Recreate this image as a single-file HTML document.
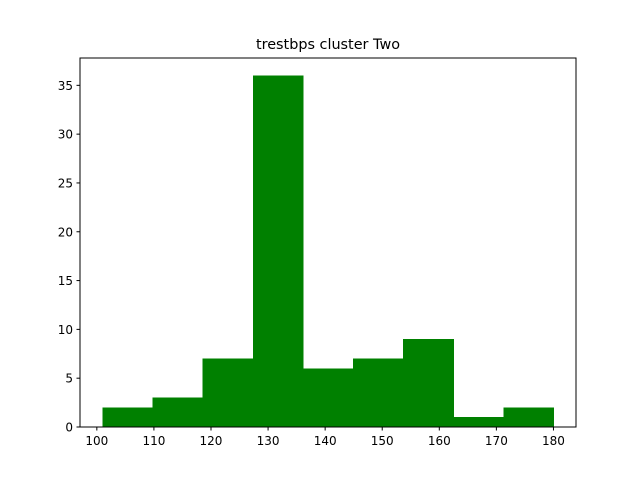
<!DOCTYPE html>
<html><head><meta charset="utf-8"><style>
body{margin:0;background:#fff;}
svg text{font-family:"DejaVu Sans","Liberation Sans",sans-serif;}
</style></head><body>
<svg id="chart" width="640" height="480">
<text x="328" y="49" font-size="14.4" text-anchor="middle">trestbps cluster Two</text>
<g id="bars" shape-rendering="crispEdges"></g>
<rect x="80" y="58" width="496" height="369" fill="none" stroke="#000" stroke-width="1"/>
<g id="xt"></g><g id="yt"></g>
</svg>
<script>
const binMin = 101, binMax = 180;
const counts = [2, 3, 7, 36, 6, 7, 9, 1, 2];
const xTicks = [100, 110, 120, 130, 140, 150, 160, 170, 180];
const yTicks = [0, 5, 10, 15, 20, 25, 30, 35];
const L=80,R=576,T=58,B=427;
const span=binMax-binMin, xmin=binMin-span*0.05, xmax=binMax+span*0.05;
const ymax=Math.max(...counts)*1.05;
const X=v=>L+(v-xmin)/(xmax-xmin)*(R-L);
const Y=v=>B-v/ymax*(B-T);
const NS="http://www.w3.org/2000/svg";
const bw=span/counts.length;
const bars=document.getElementById('bars');
counts.forEach((c,i)=>{
  const r=document.createElementNS(NS,'rect');
  const x0=X(binMin+i*bw), x1=X(binMin+(i+1)*bw);
  r.setAttribute('x',x0);r.setAttribute('width',x1-x0+0.5);
  r.setAttribute('y',Y(c));r.setAttribute('height',B-Y(c));
  r.setAttribute('fill','#008000');
  
  
  bars.appendChild(r);
});
const xt=document.getElementById('xt');
xTicks.forEach(t=>{
  const l=document.createElementNS(NS,'line');
  l.setAttribute('x1',X(t));l.setAttribute('x2',X(t));l.setAttribute('y1',B);l.setAttribute('y2',B+3.5);l.setAttribute('stroke','#000');
  
  
  xt.appendChild(l);
  const s=document.createElementNS(NS,'text');
  s.setAttribute('x',X(t));s.setAttribute('y',B+18);s.setAttribute('font-size','12');s.setAttribute('text-anchor','middle');
  s.textContent=t;
  
  
  xt.appendChild(s);
});
const yt=document.getElementById('yt');
yTicks.forEach(t=>{
  const l=document.createElementNS(NS,'line');
  l.setAttribute('x1',L-3.5);l.setAttribute('x2',L);l.setAttribute('y1',Y(t));l.setAttribute('y2',Y(t));l.setAttribute('stroke','#000');
  
  
  yt.appendChild(l);
  const s=document.createElementNS(NS,'text');
  s.setAttribute('x',L-7);s.setAttribute('y',Y(t)+4.5);s.setAttribute('font-size','12');s.setAttribute('text-anchor','end');
  s.textContent=t;
  
  
  yt.appendChild(s);
});
</script>
</body></html>
